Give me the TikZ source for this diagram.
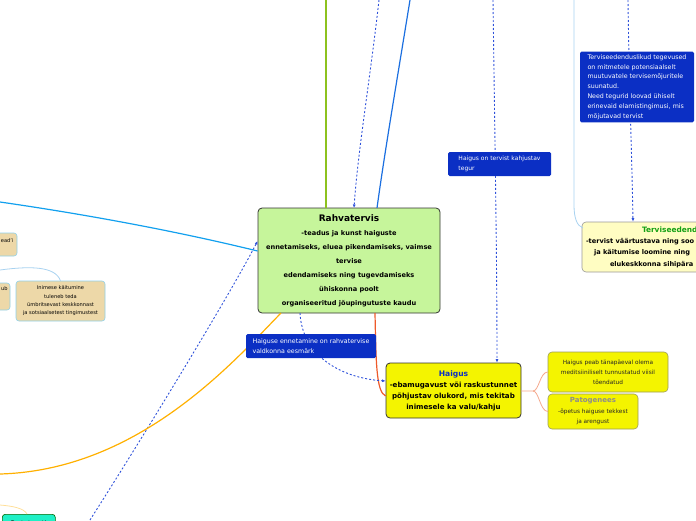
\documentclass[tikz,border=0pt]{standalone}
\usepackage{fontspec}
\setmainfont{DejaVu Sans}
\usetikzlibrary{arrows.meta, positioning}
\definecolor{rvgreen}{HTML}{C6F59B}
\definecolor{hyellow}{HTML}{F4F400}
\definecolor{hborder}{HTML}{9C9C5A}
\definecolor{lblue}{HTML}{0B2FC4}
\definecolor{tvyellow}{HTML}{FFFDC2}
\definecolor{beige}{HTML}{EDD8A8}
\definecolor{beigeline}{HTML}{8FD0EA}
\definecolor{teal}{HTML}{1EF0C6}
\definecolor{linegreen}{HTML}{8DC21F}
\definecolor{lineblue}{HTML}{1B6FE0}
\definecolor{linecyan}{HTML}{12A0EE}
\definecolor{lineorange}{HTML}{FFB000}
\definecolor{linered}{HTML}{EE5A2A}
\definecolor{linesalmon}{HTML}{F4A88C}
\definecolor{linesky}{HTML}{A8D2F0}
\definecolor{linedash}{HTML}{2F52DA}
\definecolor{titlegreen}{HTML}{14A014}

\begin{document}
\begin{tikzpicture}[x=1pt,y=-1pt,
  box/.style={draw=black!80,rounded corners=4pt,line width=0.8pt,align=center,inner sep=2pt},
  smallbox/.style={draw=hborder,fill=hyellow,rounded corners=4pt,line width=0.6pt,align=center,
    inner sep=2pt,font=\fontsize{5.8}{10}\selectfont,text=black!85},
  label/.style={fill=lblue,rounded corners=1.5pt,align=left,text=white,inner sep=3pt,
    font=\fontsize{6}{9.8}\selectfont},
  beigebox/.style={draw=beigeline,fill=beige,rounded corners=3pt,line width=0.6pt,align=center,
    inner sep=2pt,font=\fontsize{5.1}{8.3}\selectfont},
  dashlink/.style={draw=linedash,line width=0.9pt,dash pattern=on 2pt off 2pt,
    -{Latex[length=3.5pt,width=3pt]}},
  branch/.style={line width=1.2pt}]
\useasboundingbox (0,0) rectangle (696,520);
\clip (0,0) rectangle (696,520);

% top and left ends of the cut connectors
\coordinate (GreenTop) at (326,0);
\coordinate (DashTop) at (379,0);
\coordinate (BlueTop) at (410,0);
\coordinate (HaigusTop) at (493,0);
\coordinate (SkyTop) at (574,0);
\coordinate (EdendTop) at (628,0);
\coordinate (CyanLeft) at (0,202);
\coordinate (OrangeLeft) at (0,474);
\coordinate (DashLeft) at (90,520);
\coordinate (SkyLeft) at (0,270);
\coordinate (PeachLeft) at (0,505);

% main nodes
\node[box,fill=rvgreen,minimum width=182,minimum height=105,
  font=\bfseries\fontsize{6.6}{14}\selectfont] (Rahvatervis) at (349,260.5)
  {{\fontsize{9}{13}\selectfont Rahvatervis}\\-teadus ja kunst haiguste\\
   ennetamiseks, eluea pikendamiseks, vaimse\\tervise\\
   edendamiseks ning tugevdamiseks\\ühiskonna poolt\\
   organiseeritud jõupingutuste kaudu};
\node[box,fill=hyellow,minimum width=135,minimum height=55,
  font=\bfseries\fontsize{7.1}{11}\selectfont] (Haigus) at (453.5,390.5)
  {{\color{lblue}\fontsize{7.6}{11}\selectfont Haigus}\\-ebamugavust või raskustunnet\\
   põhjustav olukord, mis tekitab\\inimesele ka valu/kahju};
\node[smallbox,minimum width=120,minimum height=40] (Tunnustatud) at (608,372)
  {Haigus peab tänapäeval olema\\meditsiiniliselt tunnustatud viisil\\tõendatud};
\node[smallbox,minimum width=90,minimum height=35,font=\fontsize{5.8}{10.5}\selectfont]
  (Patogenees) at (593,411.5)
  {{\bfseries\fontsize{7}{10.5}\selectfont\color{black!45}Patogenees}\\-õpetus haiguse tekkest\\ja arengust};
\node[box,draw=black!40,line width=0.6pt,fill=tvyellow,minimum width=196,minimum height=50,
  font=\bfseries\fontsize{6.6}{11.3}\selectfont] (Terviseedendus) at (680,247)
  {{\color{titlegreen}\fontsize{7.4}{11.3}\selectfont\makebox[76pt][l]{Terviseedend}}\\
   \makebox[188pt][l]{-tervist väärtustava ning soo}\\
   \makebox[172pt][l]{ja käitumise loomine ning}\\
   \makebox[140pt][l]{elukeskkonna sihipära}};

% left side
\node[beigebox,minimum width=77,minimum height=23] (Ead) at (-21.5,244.5)
  {\makebox[70pt][r]{ead'i}\\ };
\node[beigebox,minimum width=60,minimum height=27] (Ub) at (-20,296.5)
  {\makebox[55pt][r]{ub}\\ \\ };
\node[beigebox,minimum width=89,minimum height=40] (Inimese) at (60.5,301)
  {Inimese käitumine\\tuleneb teda\\ümbritsevast keskkonnast\\ja sotsiaalsetest tingimustest};
\node[draw=black!60!green,fill=teal,rounded corners=3pt,line width=0.6pt,minimum width=53,
  minimum height=26,inner sep=2pt,anchor=north west,font=\fontsize{5}{7}\selectfont]
  (Tegurid) at (2,514) {\raisebox{9.5pt}{Tervisetegurid}};

% connectors
\draw[branch,linegreen] (GreenTop) -- (GreenTop |- Rahvatervis.north);
\draw[dashlink] (DashTop) .. controls (370,80) and (358,150) .. (354,208);
\draw[branch,lineblue] (BlueTop) .. controls (397,80) and (385,150) .. (377,208);
\draw[branch,linecyan] (CyanLeft) .. controls (90,215) and (180,232) .. (Rahvatervis.west |- 0,251);
\draw[dashlink] (DashLeft) .. controls (160,410) and (235,285) .. (Rahvatervis.west |- 0,241);
\draw[branch,lineorange] (281,313) .. controls (235,360) and (140,470) .. (OrangeLeft);
\draw[branch,linered] (375,313) .. controls (376,360) and (376,392) .. (Haigus.west |- 0,396);
\draw[dashlink] (300,313) .. controls (302,355) and (340,378) .. (Haigus.west |- 0,381);
\draw[dashlink] (HaigusTop) .. controls (495,150) and (497,260) .. (Haigus.north -| 497,0);
\draw[branch,line width=0.8pt,linesalmon] (Haigus.east |- 0,391) -- (533,391)
  .. controls (539,391) and (540,372) .. (Tunnustatud.west);
\draw[branch,line width=0.8pt,linesalmon] (533,391)
  .. controls (539,391) and (540,411) .. (Patogenees.west);
\draw[dashlink] (EdendTop) .. controls (629,80) and (632,160) .. (Terviseedendus.north -| 633,0);
\draw[line width=0.8pt,linesky] (SkyTop) -- (574,205) .. controls (574,218) and (577,226) .. (583,228);
\draw[line width=0.8pt,linesky] (SkyLeft) .. controls (30,266) and (55,266) .. (Inimese.north);
\draw[line width=0.8pt,lineorange!40] (PeachLeft) .. controls (12,506) and (24,508) .. (Tegurid.north -| 27,0);

% labels on the dashed links
\node[label,minimum width=103,minimum height=24] (KahjustavLabel) at (499.5,164)
  {Haigus on tervist kahjustav\\tegur};
\node[label,minimum width=130,minimum height=24,font=\fontsize{6.3}{9.8}\selectfont]
  (EesmarkLabel) at (311,346)
  {Haiguse ennetamine on rahvatervise\\valdkonna eesmärk};
\node[label,minimum width=114,minimum height=70,font=\fontsize{6.3}{9.8}\selectfont]
  (TegevusedLabel) at (637,87)
  {Terviseedenduslikud tegevused\\on mitmetele potensiaalselt\\muutuvatele tervisemõjuritele\\
   suunatud.\\Need tegurid loovad ühiselt\\erinevaid elamistingimusi, mis\\mõjutavad tervist};
\end{tikzpicture}
\end{document}
